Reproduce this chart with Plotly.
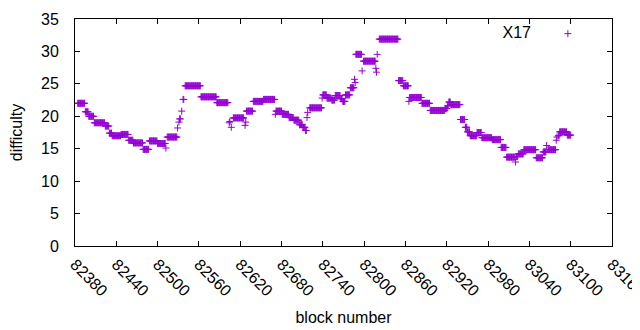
import plotly.graph_objects as go

# Runs of consecutive blocks sharing the same difficulty (start block, end block, difficulty)
run_start = [82384, 82395, 82400, 82408, 82424, 82430, 82434, 82447, 82458, 82465,
             82479, 82488, 82500, 82512, 82514, 82529, 82531, 82532, 82535, 82537,
             82540, 82563, 82586, 82604, 82605, 82607, 82610, 82627, 82628, 82629,
             82639, 82654, 82671, 82672, 82681, 82691, 82698, 82706, 82711, 82715,
             82717, 82718, 82721, 82739, 82740, 82746, 82753, 82758, 82766, 82769,
             82773, 82780, 82786, 82787, 82788, 82797, 82799, 82817, 82818, 82819,
             82822, 82850, 82857, 82865, 82866, 82884, 82896, 82918, 82921, 82923,
             82926, 82940, 82947, 82950, 82954, 82964, 82971, 82986, 82999, 83007,
             83020, 83021, 83024, 83032, 83050, 83060, 83065, 83067, 83079, 83080,
             83082, 83084, 83095]
run_end = [82394, 82399, 82407, 82423, 82429, 82433, 82446, 82457, 82464, 82478,
           82487, 82499, 82511, 82512, 82528, 82529, 82531, 82533, 82535, 82538,
           82562, 82585, 82602, 82604, 82605, 82607, 82625, 82627, 82628, 82638,
           82653, 82670, 82671, 82680, 82690, 82697, 82705, 82710, 82714, 82716,
           82717, 82718, 82738, 82739, 82745, 82752, 82757, 82765, 82768, 82772,
           82779, 82785, 82786, 82787, 82796, 82797, 82816, 82817, 82818, 82819,
           82849, 82856, 82864, 82865, 82883, 82895, 82917, 82920, 82922, 82925,
           82939, 82946, 82949, 82953, 82963, 82970, 82985, 82998, 83006, 83019,
           83020, 83023, 83031, 83049, 83059, 83064, 83065, 83078, 83079, 83080,
           83083, 83094, 83100]
run_value = [22.0, 20.7, 20.0, 19.0, 18.5, 17.4, 17.0, 17.2, 16.3, 15.9,
             14.9, 16.2, 15.8, 15.1, 16.8, 18.2, 19.1, 19.6, 20.8, 22.6,
             24.7, 23.0, 22.1, 19.0, 19.2, 18.3, 19.75, 18.6, 19.1, 20.8,
             22.3, 22.6, 20.3, 20.8, 20.3, 19.8, 19.4, 18.7, 18.3, 17.8,
             19.8, 20.6, 21.3, 22.8, 23.3, 22.8, 22.5, 23.2, 22.7, 22.3,
             23.3, 24.4, 25.7, 25.2, 29.55, 27.0, 28.5, 27.4, 26.8, 29.55,
             31.9, 25.5, 24.7, 22.3, 22.9, 22.0, 20.9, 21.2, 21.6, 22.2,
             21.8, 19.5, 18.3, 17.6, 17.0, 17.5, 16.7, 16.4, 15.2, 13.7,
             12.95, 13.8, 14.2, 14.85, 13.6, 14.5, 15.5, 14.85, 16.3, 16.8,
             17.0, 17.6, 17.1]

x_ticks = [82380, 82440, 82500, 82560, 82620, 82680, 82740, 82800, 82860,
           82920, 82980, 83040, 83100, 83160]
y_ticks = [0, 5, 10, 15, 20, 25, 30, 35]

blocks, diff = [], []
for s, e, v in zip(run_start, run_end, run_value):
    for b in range(s, e + 1):
        blocks.append(b)
        diff.append(v)

COLOR = "#9400D3"
FONT = "Liberation Sans"
FS = 16

fig = go.Figure()
fig.add_trace(go.Scatter(
    x=blocks, y=diff, mode="markers", name=" ",
    marker=dict(symbol="cross-thin", size=5, color=COLOR,
                line=dict(color=COLOR, width=1)),
))

axis_common = dict(
    showline=True, linecolor="black", linewidth=1, mirror="ticks",
    ticks="inside", ticklen=5, tickcolor="black", tickwidth=1,
    showgrid=False, zeroline=False,
    tickfont=dict(family=FONT, size=FS, color="black"),
)
fig.update_xaxes(range=[82380, 83160], tickvals=x_ticks,
                 ticktext=[str(t) for t in x_ticks], tickangle=45,
                 ticklabelstandoff=2,
                 title=dict(text="block number", font=dict(family=FONT, size=FS, color="black"),
                            standoff=13),
                 **axis_common)
fig.update_yaxes(range=[0, 35], tickvals=y_ticks, ticklabelstandoff=12,
                 title=dict(text="difficulty", font=dict(family=FONT, size=FS, color="black"),
                            standoff=19),
                 **axis_common)

fig.update_layout(
    width=640, height=330,
    margin=dict(l=67, r=36, t=11, b=92, autoexpand=False),
    paper_bgcolor="white", plot_bgcolor="white",
    showlegend=True,
    legend=dict(x=0.973, y=1.01, xanchor="right", yanchor="top",
                bgcolor="rgba(0,0,0,0)",
                title=dict(text="X17\u00a0\u00a0", side="left",
                           font=dict(family=FONT, size=FS, color="black")),
                font=dict(family=FONT, size=FS, color="black"),
                itemwidth=30),
)

fig.write_html("out.html")
